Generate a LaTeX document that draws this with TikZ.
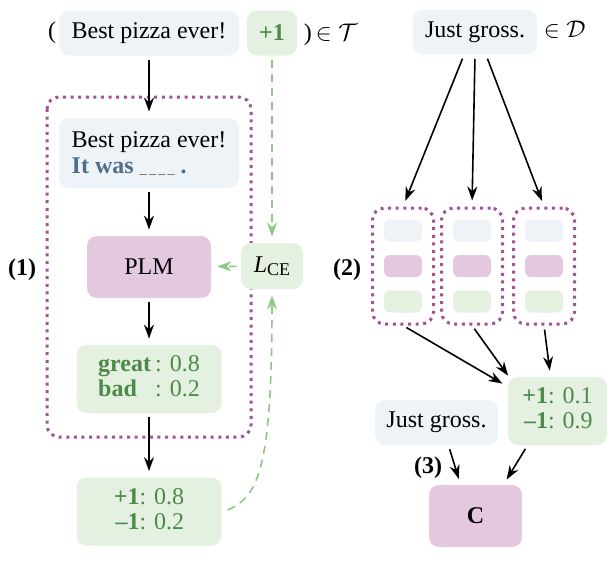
\documentclass[tikz,border=0pt,12pt]{standalone}
\usepackage{fontspec}
\setmainfont{Liberation Serif}
\usetikzlibrary{arrows.meta,positioning}
\definecolor{qfill}{HTML}{EEF3F8}
\definecolor{lfill}{HTML}{E4F1E0}
\definecolor{mfill}{HTML}{E4C8E0}
\definecolor{ltext}{HTML}{4C8A48}
\definecolor{ptext}{HTML}{4D6E8C}
\definecolor{frame}{HTML}{A0529C}
\definecolor{loss}{HTML}{8DC885}

\begin{document}
\begin{tikzpicture}[x=0.5pt,y=-0.5pt,>={Stealth[length=7pt,width=5pt]},
        box/.style={rounded corners=5pt,inner sep=3pt,align=left,
                    font=\fontsize{12}{13}\selectfont},
        qbox/.style={box,fill=qfill,minimum height=22.5pt},
        lbox/.style={box,fill=lfill,text=ltext},
        mbox/.style={box,fill=mfill},
        mini/.style={rounded corners=3pt,minimum width=19pt,minimum height=11pt,inner sep=0pt},
        tframe/.style={draw=frame,line width=1.5pt,dash pattern=on 1.5pt off 2.3pt,
                       rounded corners=6pt},
        tag/.style={font=\fontsize{12}{13}\selectfont\bfseries},
        flow/.style={->,line width=0.8pt,shorten <=2pt,shorten >=3pt},
        lossflow/.style={->,loss,line width=0.8pt,dash pattern=on 4pt off 3pt,
                         shorten <=2pt,shorten >=3pt}]
      \useasboundingbox (0,0) rectangle (614,563);
      % (1) training on labelled data
      \node[qbox,minimum width=90pt] (src) at (149,33) {Best pizza ever!};
      \node[lbox,minimum width=25pt,minimum height=22.5pt,font=\fontsize{12}{13}\selectfont\bfseries] (gold) at (272,33) {+1};
      \node[box,anchor=base east] (lpar) at ([xshift=2pt]src.base west) {(};
      \node[box,anchor=base west] (rpar) at ([xshift=0pt]gold.base east) {)\,$\in\mathcal{T}$};
      \draw[tframe] (47,97) rectangle (251,437);
      \node[qbox,minimum width=90pt,minimum height=35pt] (prompt) at (149,153)
        {Best pizza ever!\\
         \textcolor{ptext}{\textbf{It was}} {\fontsize{7}{7}\selectfont\color{black!70}\_\,\_\,\_\,\_} \textcolor{ptext}{\textbf{.}}};
      \node[mbox,minimum width=62pt,minimum height=31pt] (plm) at (149,267) {PLM};
      \node[lbox,minimum width=72.5pt,minimum height=34pt] (verb) at (149,379)
        {\begin{tabular}{@{}l@{\,}l@{}}\textbf{great} & : 0.8\\[-0.5pt] \textbf{bad} & : 0.2\end{tabular}};
      \node[lbox,minimum width=72.5pt,minimum height=34pt] (lbl) at (149,511.5)
        {\begin{tabular}{@{}r@{}l@{}}\textbf{+1} & : 0.8\\[-0.5pt] \textbf{–1} & : 0.2\end{tabular}};
      \node[lbox,text=black,minimum width=31pt,minimum height=23pt] (lce) at (272,266)
        {\textit{L}{\fontsize{9}{9}\selectfont\raisebox{-1.5pt}{CE}}};
      \node[tag] (one) at (22,270) {(1)};
      \draw[flow] (src) -- (prompt);
      \draw[flow] (prompt) -- (plm);
      \draw[flow] (plm) -- (verb);
      \draw[flow] (verb) -- (lbl);
      \draw[lossflow] (gold) -- (lce);
      \draw[lossflow] (lce) -- (plm);
      \draw[lossflow] ([xshift=1pt]lbl.east) .. controls (258,497) and (272,470) .. (lce.south);
      % (2) ensemble labels unlabelled data
      \node[qbox,minimum width=62pt] (qry) at (475,32) {Just gross.};
      \node[box,anchor=base west] (dset) at ([xshift=0pt]qry.base east) {$\in\mathcal{D}$};
      \foreach \x/\n in {403/1,472/2,544/3} {
        \node[tframe,minimum width=30.5pt,minimum height=58pt] (t\n) at (\x,266) {};
        \node[mini,fill=qfill] (t\n q) at (\x,230.5) {};
        \node[mini,fill=mfill] (t\n m) at (\x,266) {};
        \node[mini,fill=lfill] (t\n l) at (\x,301.5) {};
      }
      \node[tag] (two) at (347,270) {(2)};
      \draw[flow] ([xshift=-5.5pt]qry.south) -- (t1.north);
      \draw[flow] (qry.south) -- (t2.north);
      \draw[flow] ([xshift=5.5pt]qry.south) -- (t3.north);
      \node[lbox,minimum width=49.5pt,minimum height=34pt] (prob) at (557.5,411)
        {\begin{tabular}{@{}r@{}l@{}}\textbf{+1} & : 0.1\\[-0.5pt] \textbf{–1} & : 0.9\end{tabular}};
      \draw[flow] (t1.south) -- ([yshift=-5pt]prob.north west);
      \draw[flow] (t2.south) -- ([xshift=2pt,yshift=-2pt]prob.north west);
      \draw[flow] (t3.south) -- ([xshift=-3.5pt]prob.north);
      % (3) final classifier
      \node[qbox,minimum width=61.5pt] (qry2) at (436.5,422.5) {Just gross.};
      \node[mbox,minimum width=46.5pt,minimum height=31pt,font=\fontsize{12}{13}\selectfont\bfseries] (cls) at (475.5,516) {C};
      \node[tag] (three) at (428,468) {(3)};
      \draw[flow] ([xshift=6pt]qry2.south) -- ([xshift=-7.5pt]cls.north);
      \draw[flow] ([xshift=-15pt]prob.south) -- ([xshift=14pt]cls.north);
    \end{tikzpicture}
\end{document}
